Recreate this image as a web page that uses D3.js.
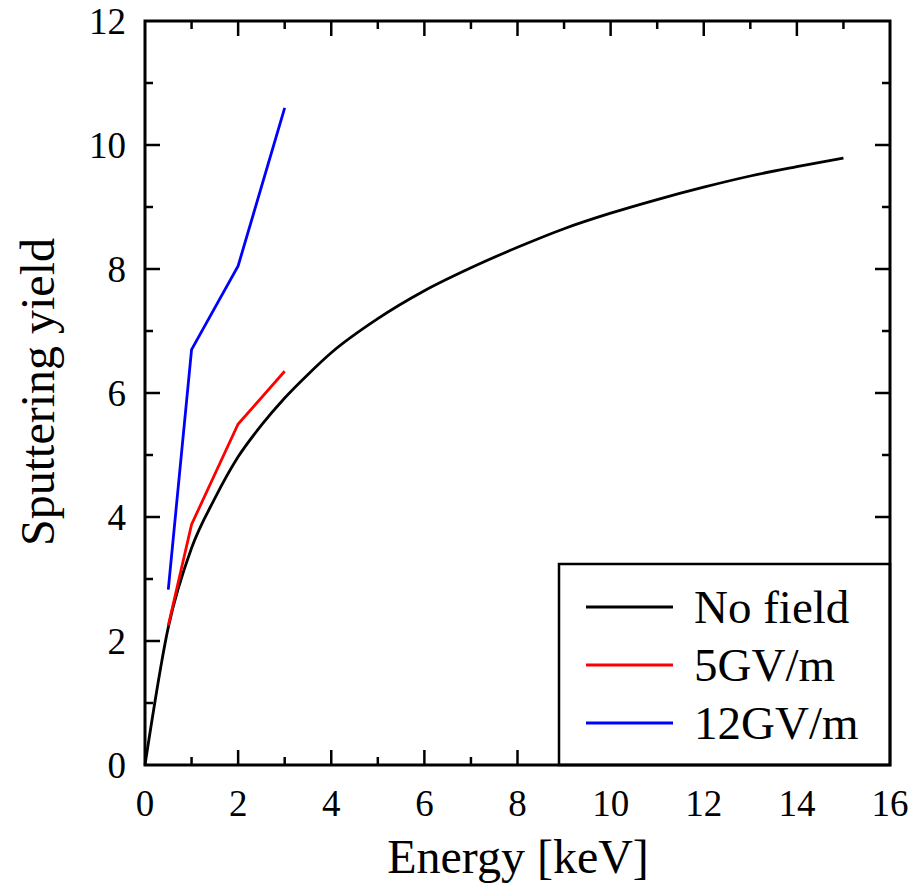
<!DOCTYPE html><html>
<head>
<meta charset="utf-8">
<title>Sputtering yield</title>
<style>
  body { margin: 0; background: #fff; }
  text { font-family: "Liberation Serif", "DejaVu Serif", serif; fill: #000; }
</style>
</head><body>
<svg width="912" height="885"></svg>

<script src="https://cdn.jsdelivr.net/npm/d3@7"></script>
<script>
// values
var noFieldE = [0, 0.5, 1, 1.5, 2, 2.5, 3, 3.5, 4, 5, 6, 7, 8, 9, 10, 11, 12, 13, 14, 15];
var noFieldY = [0, 2.22, 3.5, 4.3, 4.97, 5.48, 5.92, 6.3, 6.65, 7.2, 7.65, 8.02, 8.35, 8.65, 8.9, 9.12, 9.32, 9.5, 9.65, 9.79];
var field5E  = [0.5, 1, 2, 3];
var field5Y  = [2.25, 3.88, 5.5, 6.35];
var field12E = [0.5, 1, 2, 3];
var field12Y = [2.83, 6.7, 8.05, 10.6];
var seriesNames  = ['No field', '5GV/m', '12GV/m'];
var seriesColors = ['#000', '#f00', '#00f'];
var xTicks = [0, 2, 4, 6, 8, 10, 12, 14, 16];
var yTicks = [0, 2, 4, 6, 8, 10, 12];

var pl = 145, pr = 890, pt = 21, pb = 765;
var svg = d3.select('svg');
var x = d3.scaleLinear().domain([0, 16]).range([pl, pr]);
var y = d3.scaleLinear().domain([0, 12]).range([pb, pt]);

var series = [
  { name: seriesNames[0], color: seriesColors[0], pts: d3.zip(noFieldE, noFieldY), curve: d3.curveMonotoneX },
  { name: seriesNames[1], color: seriesColors[1], pts: d3.zip(field5E, field5Y), curve: d3.curveLinear },
  { name: seriesNames[2], color: seriesColors[2], pts: d3.zip(field12E, field12Y), curve: d3.curveLinear }
];

var tickG = svg.append('g').attr('stroke', '#000').attr('stroke-width', 2.5);
function xt(vals, len) {
  vals.forEach(function(v) {
    tickG.append('line').attr('x1', x(v)).attr('x2', x(v)).attr('y1', pb).attr('y2', pb - len);
    tickG.append('line').attr('x1', x(v)).attr('x2', x(v)).attr('y1', pt).attr('y2', pt + len);
  });
}
function yt(vals, len) {
  vals.forEach(function(v) {
    tickG.append('line').attr('y1', y(v)).attr('y2', y(v)).attr('x1', pl).attr('x2', pl + len);
    tickG.append('line').attr('y1', y(v)).attr('y2', y(v)).attr('x1', pr).attr('x2', pr - len);
  });
}
xt(xTicks.slice(1, -1), 15); xt(d3.range(1, 16, 2), 8);
yt(yTicks.slice(1, -1), 15); yt(d3.range(1, 12, 2), 8);

series.forEach(function(s) {
  var line = d3.line().x(function(d) { return x(d[0]); }).y(function(d) { return y(d[1]); }).curve(s.curve);
  svg.append('path').attr('d', line(s.pts))
    .attr('fill', 'none').attr('stroke', s.color).attr('stroke-width', 2.8);
});

// legend
var lg = svg.append('g');
lg.append('rect').attr('x', 559).attr('y', 564).attr('width', pr - 559).attr('height', pb - 564)
  .attr('fill', '#fff').attr('stroke', '#000').attr('stroke-width', 2.5);
series.forEach(function(s, i) {
  var ly = 607 + i * 58;
  lg.append('line').attr('x1', 586).attr('x2', 673).attr('y1', ly).attr('y2', ly)
    .attr('stroke', s.color).attr('stroke-width', 2.8);
  lg.append('text').attr('x', 694).attr('y', ly + 16).attr('font-size', 47).text(s.name);
});

svg.append('rect').attr('x', pl).attr('y', pt).attr('width', pr - pl).attr('height', pb - pt)
  .attr('fill', 'none').attr('stroke', '#000').attr('stroke-width', 3);

svg.selectAll('.xl').data(xTicks).enter().append('text')
  .attr('x', function(d) { return x(d); }).attr('y', 816).attr('text-anchor', 'middle')
  .attr('font-size', 37).text(function(d) { return d; });
svg.selectAll('.yl').data(yTicks).enter().append('text')
  .attr('x', 126).attr('y', function(d) { return y(d) + 13; }).attr('text-anchor', 'end')
  .attr('font-size', 37).text(function(d) { return d; });

svg.append('text').attr('x', 518).attr('y', 873).attr('text-anchor', 'middle')
  .attr('font-size', 48).text('Energy [keV]');
svg.append('text').attr('transform', 'translate(54,392) rotate(-90)')
  .attr('text-anchor', 'middle').attr('font-size', 48).text('Sputtering yield');
</script>
</body></html>
